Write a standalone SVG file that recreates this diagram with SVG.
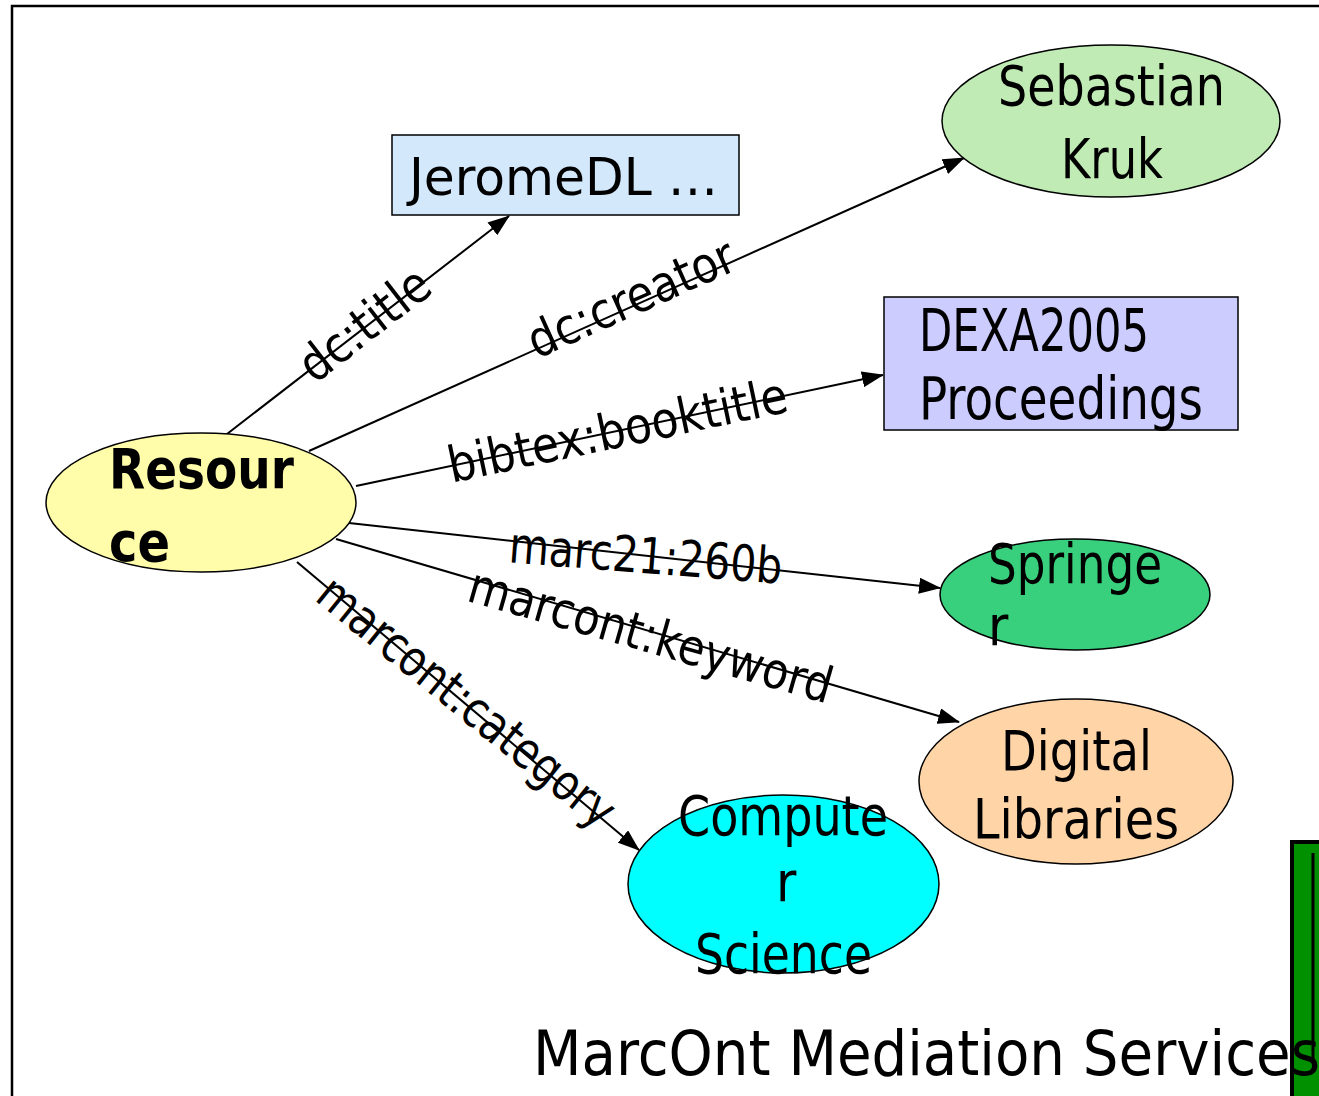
<svg xmlns="http://www.w3.org/2000/svg" width="1319" height="1096" viewBox="0 0 1319 1096">
<style>
.bg{fill:#fff}
.frame{fill:none;stroke:#000;stroke-width:2.5}
.n{stroke:#000;stroke-width:1.5}
.t{font-family:"DejaVu Sans Condensed","DejaVu Sans",sans-serif;fill:#000}
.nt{font-size:55px}
.lbl{font-size:50px;text-anchor:middle}
.edge{stroke:#000;stroke-width:2;fill:none;marker-end:url(#arr)}
</style>
<defs>
<marker id="arr" markerUnits="userSpaceOnUse" markerWidth="22" markerHeight="16" viewBox="0 0 22 16" refX="21" refY="8" orient="auto">
<path d="M0,0 L22,8 L0,16 z" fill="#000"/>
</marker>
</defs>
<rect class="bg" x="0" y="0" width="1319" height="1096"/>
<path class="frame" d="M12,1096 V6 H1319"/>

<g id="connectors">
<line class="edge" x1="227" y1="434" x2="509" y2="216"/>
<line class="edge" x1="309" y1="451" x2="964" y2="158"/>
<line class="edge" x1="356" y1="486" x2="883" y2="375"/>
<line class="edge" x1="349" y1="523" x2="940" y2="588"/>
<line class="edge" x1="336" y1="539" x2="959" y2="722"/>
<line class="edge" x1="297" y1="562" x2="639" y2="850"/>
<g transform="translate(375,338) rotate(-37.8)"><text class="t lbl" x="0" y="0" textLength="152" lengthAdjust="spacingAndGlyphs">dc:title</text></g>
<g transform="translate(638,314) rotate(-24.1)"><text class="t lbl" x="0" y="0" textLength="222" lengthAdjust="spacingAndGlyphs">dc:creator</text></g>
<g transform="translate(621,447) rotate(-11.9)"><text class="t lbl" x="0" y="0" textLength="346" lengthAdjust="spacingAndGlyphs">bibtex:booktitle</text></g>
<g transform="translate(644.5,573) rotate(4.5)"><text class="t lbl" x="0" y="0" textLength="274" lengthAdjust="spacingAndGlyphs">marc21:260b</text></g>
<g transform="translate(646,652) rotate(15.9)"><text class="t lbl" x="0" y="0" textLength="376" lengthAdjust="spacingAndGlyphs">marcont:keyword</text></g>
<g transform="translate(456,715) rotate(39)"><text class="t lbl" x="0" y="0" textLength="367" lengthAdjust="spacingAndGlyphs">marcont:category</text></g>
</g>

<g id="jeromedl">
<rect class="n" x="392" y="135" width="347" height="80" fill="#d4e8fc"/>
<text class="t" font-size="52" x="409" y="195" textLength="309" lengthAdjust="spacingAndGlyphs">JeromeDL …</text>
</g>

<g id="sebastian">
<ellipse class="n" cx="1111" cy="121" rx="169" ry="76" fill="#c0ebb4"/>
<text class="t nt" x="998" y="105" textLength="227" lengthAdjust="spacingAndGlyphs">Sebastian</text>
<text class="t nt" x="1061" y="178" textLength="102" lengthAdjust="spacingAndGlyphs">Kruk</text>
</g>

<g id="dexa">
<rect class="n" x="884" y="297" width="354" height="133" fill="#ccccff"/>
<text class="t" font-size="58" x="919" y="351" textLength="230" lengthAdjust="spacingAndGlyphs">DEXA2005</text>
<text class="t" font-size="58" x="919" y="419" textLength="284" lengthAdjust="spacingAndGlyphs">Proceedings</text>
</g>

<g id="resource">
<ellipse class="n" cx="201" cy="502.5" rx="155" ry="69.5" fill="#fffcaa"/>
<text class="t" font-size="56" font-weight="bold" x="109" y="488" textLength="185" lengthAdjust="spacingAndGlyphs">Resour</text>
<text class="t" font-size="56" font-weight="bold" x="109" y="561" textLength="61" lengthAdjust="spacingAndGlyphs">ce</text>
</g>

<g id="springer">
<ellipse class="n" cx="1075" cy="594.5" rx="135" ry="55.5" fill="#39d07d"/>
<text class="t nt" x="988" y="583" textLength="174" lengthAdjust="spacingAndGlyphs">Springe</text>
<text class="t nt" x="988" y="645">r</text>
</g>

<g id="digital">
<ellipse class="n" cx="1076" cy="781.5" rx="157" ry="82.5" fill="#ffd5a8"/>
<text class="t nt" x="1001" y="770" textLength="151" lengthAdjust="spacingAndGlyphs">Digital</text>
<text class="t nt" x="973" y="838" textLength="206" lengthAdjust="spacingAndGlyphs">Libraries</text>
</g>

<g id="computer">
<ellipse class="n" cx="783.5" cy="884" rx="155.5" ry="89" fill="#00ffff"/>
<text class="t nt" x="678" y="835" textLength="210" lengthAdjust="spacingAndGlyphs">Compute</text>
<text class="t nt" x="776" y="901">r</text>
<text class="t nt" x="695" y="973" textLength="177" lengthAdjust="spacingAndGlyphs">Science</text>
</g>

<g id="green-panel">
<rect x="1292" y="842" width="40" height="300" fill="#009000" stroke="#000" stroke-width="4"/>
<line x1="1313" y1="853" x2="1313" y2="1062" stroke="#000" stroke-width="3"/>
</g>

<text id="caption" class="t" font-size="62" x="533" y="1075" textLength="787" lengthAdjust="spacingAndGlyphs">MarcOnt Mediation Services</text>
</svg>
